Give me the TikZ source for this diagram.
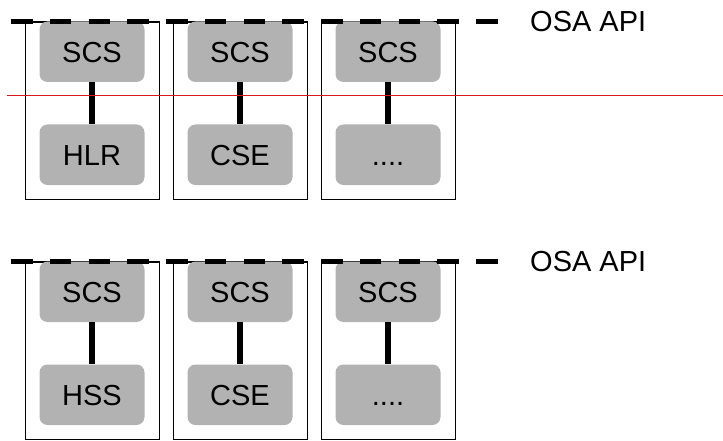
\documentclass[tikz,border=0pt]{standalone}
\usepackage{fontspec}
\setmainfont{Liberation Sans}
\newcommand\fourdots{....}
\newcommand\lft[1]{#1\hspace{8pt}}
\begin{document}
\begin{tikzpicture}[x=1pt,y=-1pt,
  frame/.style={draw=black,line width=1.3pt,minimum width=134pt,minimum height=177.7pt,inner sep=0pt,anchor=north west},
  unit/.style={fill=black!30,rounded corners=8pt,minimum width=105pt,minimum height=60.5pt,inner sep=0pt,anchor=north west,font=\fontsize{29}{31}\selectfont,text height=20.8pt,text depth=0pt},
  link/.style={line width=6pt},
  api/.style={line width=5pt,dash pattern=on 21.7pt off 17.05pt},
  lbl/.style={font=\fontsize{29}{31}\selectfont,inner sep=0pt,anchor=base west},
  redline/.style={draw={rgb,255:red,215;green,25;blue,25},line width=1pt}]
\useasboundingbox (0,0) rectangle (723,441);
\foreach \r/\dy/\first in {1/0/HLR,2/240/HSS}{
  \foreach \c/\x/\t in {1/25/\lft{\first},2/173/\lft{CSE},3/321/\fourdots}{
    \node[frame] (f\r\c) at (\x,21.3+\dy) {};
    \node[unit] (s\r\c) at (\x+14.3,21.3+\dy) {\lft{SCS}};
    \node[unit] (b\r\c) at (\x+14.3,124.3+\dy) {\t};
    \draw[link] (s\r\c.south) -- (b\r\c.north);
  }
  \coordinate (ds\r) at (11,21.7+\dy);
  \coordinate (de\r) at (497.7,21.7+\dy);
  \draw[api] (ds\r) -- (de\r);
  \node[lbl] (osa\r) at (530,31.7+\dy) {OSA API};
}
\coordinate (rl1) at (7,95.5);
\coordinate (rl2) at (723,95.5);
\draw[redline] (rl1) -- (rl2);
\end{tikzpicture}
\end{document}
